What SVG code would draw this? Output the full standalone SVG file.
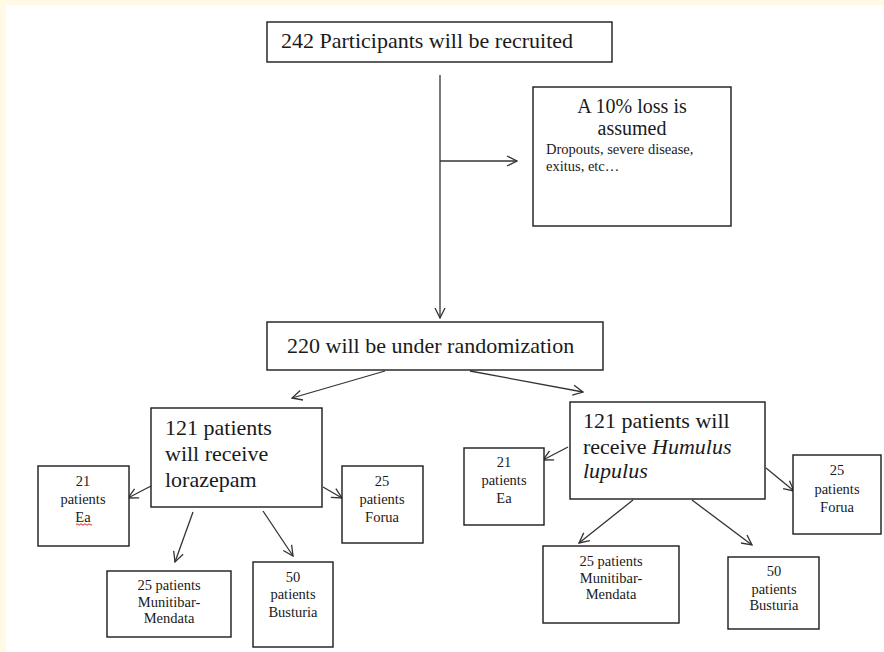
<svg xmlns="http://www.w3.org/2000/svg" width="884" height="652" viewBox="0 0 884 652">
<style>
text{font-family:'Liberation Serif','Times New Roman',serif;fill:#1a1a1a}
.box{fill:#fff;stroke:#1a1a1a;stroke-width:1.4}
.big{font-size:22px}
.mid{font-size:20px}
.sm{font-size:14.5px}
.c{text-anchor:middle}
.con line{stroke:#333;stroke-width:1.3;marker-end:url(#ah)}
</style>
<defs>
<marker id="ah" viewBox="0 0 12 12" refX="11" refY="6" markerWidth="12" markerHeight="12" markerUnits="userSpaceOnUse" orient="auto">
<path d="M1,1 L11,6 L1,11" fill="none" stroke="#333" stroke-width="1.3"/>
</marker>
</defs>
<rect x="0" y="0" width="884" height="652" fill="#FFF9E6"/>
<rect x="6" y="5" width="878" height="647" fill="#fff"/>

<g id="connectors" class="con">
<line x1="440" y1="75" x2="440" y2="318"/>
<line x1="440" y1="161" x2="517" y2="161"/>
<line x1="385" y1="371" x2="292" y2="398"/>
<line x1="470" y1="371" x2="583" y2="392"/>
<line x1="151" y1="486" x2="128" y2="498"/>
<line x1="323" y1="487" x2="342" y2="498"/>
<line x1="193" y1="512" x2="175" y2="562"/>
<line x1="263" y1="511" x2="293" y2="556"/>
<line x1="568" y1="447" x2="543" y2="460"/>
<line x1="766" y1="468" x2="794" y2="491"/>
<line x1="633" y1="500" x2="579" y2="543"/>
<line x1="692" y1="500" x2="752" y2="545"/>
</g>

<g id="recruited">
<rect class="box" x="267" y="22" width="345" height="40"/>
<text class="big" x="281" y="48">242 Participants will be recruited</text>
</g>

<g id="loss">
<rect class="box" x="533" y="87" width="198" height="139"/>
<text class="mid c" x="632" y="113">A 10% loss is</text>
<text class="mid c" x="632" y="135">assumed</text>
<text class="sm" x="546" y="154">Dropouts, severe disease,</text>
<text class="sm" x="546" y="171">exitus, etc…</text>
</g>

<g id="randomization">
<rect class="box" x="267" y="322" width="336" height="48"/>
<text class="big" x="287" y="353">220 will be under randomization</text>
</g>

<g id="lorazepam">
<rect class="box" x="151" y="408" width="171" height="99"/>
<text class="big" x="165" y="435">121 patients</text>
<text class="big" x="165" y="461">will receive</text>
<text class="big" x="165" y="487">lorazepam</text>
</g>

<g id="ea-left">
<rect class="box" x="38" y="466" width="91" height="80"/>
<text class="sm c" x="83" y="486">21</text>
<text class="sm c" x="83" y="504">patients</text>
<text class="sm c" x="83" y="522">Ea</text>
<path d="M76,524.5 q1,-1.5 2,0 t2,0 t2,0 t2,0 t2,0 t2,0 t2,0 t2,0" fill="none" stroke="#e02020" stroke-width="1"/>
</g>

<g id="forua-left">
<rect class="box" x="342" y="466" width="81" height="77"/>
<text class="sm c" x="382" y="486">25</text>
<text class="sm c" x="382" y="504">patients</text>
<text class="sm c" x="382" y="522">Forua</text>
</g>

<g id="munitibar-left">
<rect class="box" x="107" y="571" width="124" height="66"/>
<text class="sm c" x="169" y="590">25 patients</text>
<text class="sm c" x="169" y="607">Munitibar-</text>
<text class="sm c" x="169" y="623">Mendata</text>
</g>

<g id="busturia-left">
<rect class="box" x="253" y="562" width="80" height="85"/>
<text class="sm c" x="293" y="582">50</text>
<text class="sm c" x="293" y="599">patients</text>
<text class="sm c" x="293" y="617">Busturia</text>
</g>

<g id="humulus">
<rect class="box" x="570" y="402" width="195" height="97"/>
<text class="big" x="583" y="428">121 patients will</text>
<text class="big" x="583" y="454">receive <tspan font-style="italic">Humulus</tspan></text>
<text class="big" x="583" y="478" font-style="italic">lupulus</text>
</g>

<g id="ea-right">
<rect class="box" x="464" y="448" width="80" height="77"/>
<text class="sm c" x="504" y="467">21</text>
<text class="sm c" x="504" y="485">patients</text>
<text class="sm c" x="504" y="503">Ea</text>
</g>

<g id="forua-right">
<rect class="box" x="793" y="455" width="88" height="79"/>
<text class="sm c" x="837" y="475">25</text>
<text class="sm c" x="837" y="494">patients</text>
<text class="sm c" x="837" y="512">Forua</text>
</g>

<g id="munitibar-right">
<rect class="box" x="543" y="546" width="136" height="77"/>
<text class="sm c" x="611" y="566">25 patients</text>
<text class="sm c" x="611" y="583">Munitibar-</text>
<text class="sm c" x="611" y="599">Mendata</text>
</g>

<g id="busturia-right">
<rect class="box" x="728" y="557" width="91" height="72"/>
<text class="sm c" x="774" y="576">50</text>
<text class="sm c" x="774" y="594">patients</text>
<text class="sm c" x="774" y="610">Busturia</text>
</g>
</svg>
